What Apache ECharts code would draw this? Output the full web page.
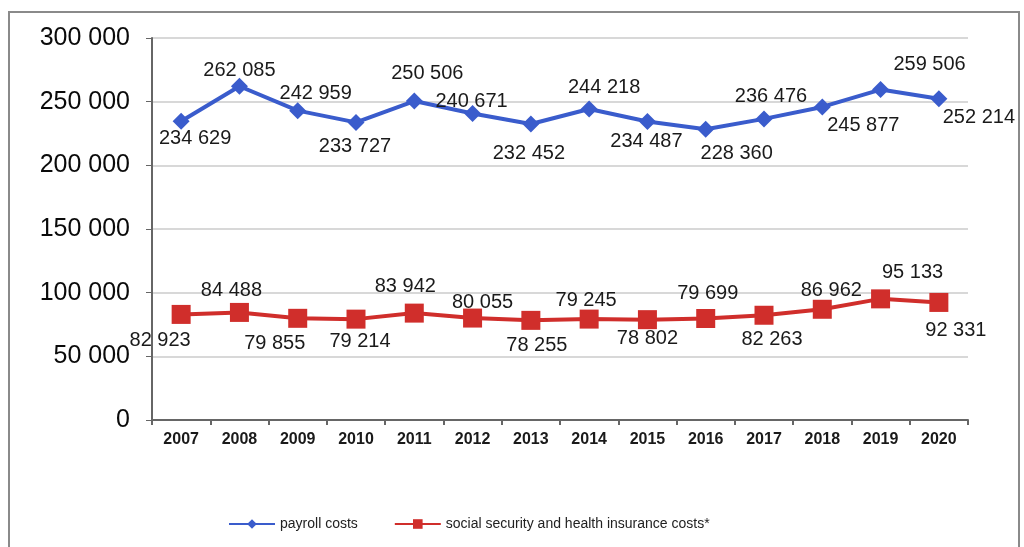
<!DOCTYPE html>
<html>
<head>
<meta charset="utf-8">
<script src="https://cdn.jsdelivr.net/npm/echarts@6/dist/echarts.min.js"></script>
<style>html,body{margin:0;padding:0;background:#fff}#c{width:1024px;height:547px}</style>
</head>
<body>
<div id="c"></div>
<script>
const years = ['2007','2008','2009','2010','2011','2012','2013','2014','2015','2016','2017','2018','2019','2020'];
const payroll = [234629,262085,242959,233727,250506,240671,232452,244218,234487,228360,236476,245877,259506,252214];
const social = [82923,84488,79855,79214,83942,80055,78255,79245,78802,79699,82263,86962,95133,92331];
const yTicks = [0,50000,100000,150000,200000,250000,300000];

// label offsets (style only)
const payrollLabelOffset = [[14,17],[0,-16],[18,-17],[-1,24],[13,-28],[-1,-12],[-2,29],[15,-22],[-1,20],[31,24],[7,-22],[41,19],[49,-25],[40,19]];
const socialLabelOffset = [[-21,26],[-8,-22],[-23,25],[4,22],[-9,-27],[10,-16],[6,25],[-3,-19],[0,19],[2,-25],[8,24],[9,-19],[32,-26],[17,28]];

const fmt = v => String(v).replace(/\B(?=(\d{3})+(?!\d))/g, ' ');
const mk = (vals, offs) => vals.map((v,i) => ({value: v, label: {offset: offs[i]}}));

const chart = echarts.init(document.getElementById('c'));
chart.setOption({
  backgroundColor: '#fff',
  animation: false,
  graphic: [{
    type: 'rect', shape: {x: 9, y: 12, width: 1010, height: 545},
    style: {fill: 'none', stroke: '#8a8a8a', lineWidth: 2}, silent: true
  }],
  grid: {left: 152, top: 38, right: 56, bottom: 127, containLabel: false},
  legend: {
    left: 223, top: 512,
    itemWidth: 46, itemHeight: 12, itemGap: 36,
    textStyle: {fontFamily: 'Liberation Sans, Arial', fontSize: 14, color: '#222'},
    data: ['payroll costs', 'social security and health insurance costs*']
  },
  xAxis: {
    type: 'category', data: years, boundaryGap: true,
    axisLine: {lineStyle: {color: '#666', width: 2}},
    axisTick: {show: true, interval: 0, length: 5, lineStyle: {color: '#666', width: 2}},
    axisLabel: {fontFamily: 'Liberation Sans, Arial', fontSize: 16, fontWeight: 'bold', color: '#1a1a1a', margin: 12, interval: 0}
  },
  yAxis: {
    type: 'value', min: 0, max: 300000, interval: 50000,
    axisLine: {show: true, lineStyle: {color: '#666', width: 2}},
    axisTick: {show: true, length: 6, lineStyle: {color: '#666', width: 1}},
    splitLine: {lineStyle: {color: '#d8d8d8', width: 2}},
    axisLabel: {fontFamily: 'Liberation Sans, Arial', fontSize: 25, color: '#0a0a0a', margin: 22,
      formatter: v => yTicks.includes(v) ? fmt(v) : ''}
  },
  series: [
    {
      name: 'payroll costs', type: 'line', data: mk(payroll, payrollLabelOffset),
      symbol: 'diamond', symbolSize: 17,
      lineStyle: {color: '#3a5ccc', width: 4},
      itemStyle: {color: '#3a5ccc'},
      label: {show: true, position: 'inside', formatter: p => fmt(p.value),
        fontFamily: 'Liberation Sans, Arial', fontSize: 20, color: '#1a1a1a'},
      z: 3
    },
    {
      name: 'social security and health insurance costs*', type: 'line', data: mk(social, socialLabelOffset),
      symbol: 'rect', symbolSize: 19,
      lineStyle: {color: '#d02e2b', width: 4},
      itemStyle: {color: '#d02e2b'},
      label: {show: true, position: 'inside', formatter: p => fmt(p.value),
        fontFamily: 'Liberation Sans, Arial', fontSize: 20, color: '#1a1a1a'},
      z: 3
    }
  ]
});
</script>
</body>
</html>
